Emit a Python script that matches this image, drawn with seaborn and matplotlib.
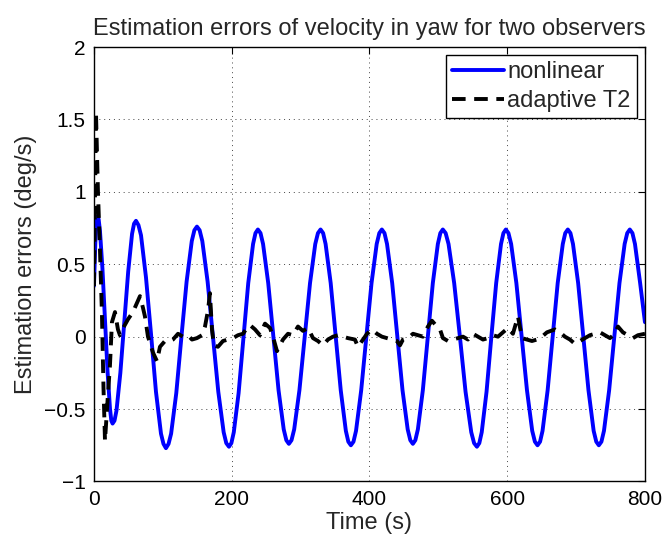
import numpy as np
import pandas as pd
import matplotlib
matplotlib.use("Agg")
import matplotlib.pyplot as plt
import seaborn as sns

# ---- data ----
blue_t = [0, 2, 3.5, 5,
          6.8, 8.7, 12.3, 16, 19.7, 23.3, 25.2, 27,
          29.8, 32.7, 38.3, 44, 49.7, 55.3, 58.2, 61,
          64.6, 68.3, 75.5, 82.8, 90, 97.3, 100.9, 104.5,
          108.3, 112, 119.5, 127, 134.5, 142, 145.8, 149.5,
          153.4, 157.3, 165, 172.8, 180.5, 188.3, 192.1, 196,
          199.5, 203, 210, 217, 224, 231, 234.5, 238,
          241.8, 245.5, 253, 260.5, 268, 275.5, 279.3, 283,
          286.8, 290.7, 298.3, 306, 313.7, 321.3, 325.2, 329,
          332.7, 336.3, 343.7, 351, 358.3, 365.7, 369.3, 373,
          376.8, 380.5, 388, 395.5, 403, 410.5, 414.3, 418,
          421.8, 425.5, 433, 440.5, 448, 455.5, 459.3, 463,
          466.6, 470.3, 477.5, 484.8, 492, 499.3, 502.9, 506.5,
          510.6, 514.8, 523, 531.3, 539.5, 547.8, 551.9, 556,
          559.5, 563, 570, 577, 584, 591, 594.5, 598,
          601.8, 605.7, 613.3, 621, 628.7, 636.3, 640.2, 644,
          647.7, 651.3, 658.7, 666, 673.3, 680.7, 684.3, 688,
          691.8, 695.5, 703, 710.5, 718, 725.5, 729.3, 733,
          736.8, 740.5, 748, 755.5, 763, 770.5, 774.3, 778,
          781.8, 785.5, 793, 800]
blue_v = [0.35, 0.65, 0.78, 0.83,
          0.81, 0.73, 0.47, 0.12, -0.24, -0.50, -0.58, -0.60,
          -0.58, -0.51, -0.25, 0.10, 0.45, 0.71, 0.78, 0.80,
          0.77, 0.70, 0.41, 0.02, -0.38, -0.67, -0.74, -0.77,
          -0.74, -0.67, -0.39, 0.00, 0.38, 0.66, 0.735, 0.76,
          0.735, 0.66, 0.38, 0.00, -0.38, -0.66, -0.735, -0.76,
          -0.735, -0.66, -0.39, -0.01, 0.37, 0.64, 0.715, 0.74,
          0.715, 0.64, 0.37, 0.00, -0.37, -0.64, -0.715, -0.74,
          -0.715, -0.64, -0.37, 0.00, 0.37, 0.64, 0.715, 0.74,
          0.715, 0.64, 0.37, 0.00, -0.37, -0.65, -0.725, -0.75,
          -0.725, -0.65, -0.37, 0.00, 0.37, 0.64, 0.715, 0.74,
          0.715, 0.64, 0.37, 0.00, -0.37, -0.64, -0.715, -0.74,
          -0.715, -0.64, -0.37, 0.00, 0.37, 0.64, 0.715, 0.74,
          0.715, 0.64, 0.37, 0.00, -0.38, -0.66, -0.735, -0.76,
          -0.735, -0.66, -0.38, 0.00, 0.37, 0.64, 0.715, 0.74,
          0.715, 0.64, 0.37, 0.00, -0.37, -0.65, -0.725, -0.75,
          -0.725, -0.65, -0.37, 0.00, 0.37, 0.64, 0.715, 0.74,
          0.715, 0.64, 0.37, 0.00, -0.37, -0.65, -0.725, -0.75,
          -0.725, -0.65, -0.37, 0.00, 0.37, 0.64, 0.715, 0.74,
          0.715, 0.64, 0.37, 0.10]

black_t = [0, 2.9, 5.8, 8.7, 11.6, 13.8, 16.0, 19.6, 23.2, 26.1,
           30.5, 34.8, 37.7, 43.6, 49.4, 56.6, 63.9, 66.8, 71.1, 74.0,
           78.4, 85.7, 91.5, 95.8, 103.1, 110.3, 114.7, 122.0, 129.2, 136.5,
           142.3, 149.5, 156.8, 161.2, 165.5, 168.4, 171.3, 174.2, 180.0, 187.3,
           194.6, 201.8, 209.1, 216.3, 223.6, 226.5, 233.8, 241.0, 248.3, 255.6,
           259.9, 265.7, 270.1, 274.4, 281.7, 288.9, 296.2, 303.4, 310.7, 318.0,
           325.2, 332.5, 339.7, 347.0, 354.3, 361.5, 368.8, 378.9, 383.3, 389.1,
           396.4, 403.6, 410.9, 418.1, 425.4, 432.7, 439.9, 444.3, 448.6, 455.9,
           463.2, 470.4, 477.7, 484.9, 490.7, 498.0, 502.4, 506.7, 514.0, 521.2,
           528.5, 535.8, 543.0, 550.3, 557.5, 564.8, 572.1, 579.3, 586.6, 593.8,
           601.1, 608.3, 615.6, 621.4, 628.7, 635.9, 643.2, 650.5, 657.7, 669.3,
           676.6, 683.8, 691.1, 698.4, 705.6, 712.9, 720.1, 727.4, 734.7, 741.9,
           749.2, 756.4, 760.8, 768.0, 775.3, 782.6, 789.8, 800.0]
black_v = [0.35, 1.55, 1.00, 0.60, 0.15, -0.35, -0.72, -0.45, -0.20, 0.10,
           0.17, 0.05, 0.01, 0.07, 0.12, 0.17, 0.25, 0.28, 0.20, 0.14,
           0.00, -0.11, -0.17, -0.07, -0.03, -0.03, -0.02, 0.02, 0.00, 0.01,
           -0.02, -0.01, 0.01, 0.07, 0.18, 0.30, 0.05, -0.06, -0.07, -0.03,
           -0.02, -0.01, 0.01, 0.02, 0.07, 0.08, 0.05, 0.01, 0.09, 0.06,
           0.00, -0.10, -0.06, -0.02, 0.02, 0.01, 0.07, 0.04, 0.06, -0.01,
           -0.03, -0.06, -0.02, 0.00, 0.01, 0.00, -0.01, -0.02, -0.07, -0.03,
           0.02, 0.05, 0.02, 0.00, -0.01, -0.02, -0.03, -0.06, -0.02, -0.01,
           0.02, 0.01, 0.00, 0.07, 0.11, 0.07, 0.05, -0.01, -0.03, -0.02,
           -0.01, 0.00, -0.02, 0.02, 0.00, -0.02, -0.01, 0.01, 0.00, 0.03,
           0.06, 0.02, 0.14, -0.01, -0.02, -0.03, -0.02, 0.00, 0.03, 0.05,
           0.03, 0.00, -0.02, -0.05, -0.03, -0.01, 0.01, 0.02, 0.03, 0.01,
           -0.01, 0.02, 0.07, 0.03, 0.01, -0.01, 0.01, 0.02]

series_names = ["nonlinear", "adaptive T2"]
xticks = [0, 200, 400, 600, 800]
yticks = [-1, -0.5, 0, 0.5, 1, 1.5, 2]
ytick_labels = ["\u22121", "\u22120.5", "0", "0.5", "1", "1.5", "2"]
title = "Estimation errors of velocity in yaw for two observers"
xlabel = "Time (s)"
ylabel = "Estimation errors (deg/s)"

# ---- drawing ----
sns.set_theme(style="white")
plt.rcParams['font.family'] = ['Liberation Sans', 'DejaVu Sans']

fig = plt.figure(figsize=(6.66, 5.44), dpi=100)
ax = fig.add_axes([0.1411, 0.1149, 0.8273, 0.7987])

df_b = pd.DataFrame({"t": blue_t, "v": blue_v})
df_k = pd.DataFrame({"t": black_t, "v": black_v})
sns.lineplot(data=df_b, x="t", y="v", ax=ax, color="#0000ff", linewidth=2.8,
             sort=False, estimator=None, label=series_names[0])
sns.lineplot(data=df_k, x="t", y="v", ax=ax, color="black", linewidth=2.8,
             sort=False, estimator=None, label=series_names[1])
ax.lines[1].set_dashes([3.5, 2.2])
for ln in ax.lines:
    ln.set_solid_joinstyle("round")
    ln.set_dash_joinstyle("round")

ax.set_xlim(0, 800)
ax.set_ylim(-1, 2)
ax.set_xticks(xticks)
ax.set_xticklabels([str(x) for x in xticks])
ax.set_yticks(yticks)
ax.set_yticklabels(ytick_labels)

ax.grid(True, linestyle=(0, (1, 4)), color="#444444", linewidth=0.7)
ax.tick_params(direction="in", top=True, right=True, length=5, width=0.8,
               labelsize=15, pad=6, colors="black")
for s in ax.spines.values():
    s.set_color("black")
    s.set_linewidth(1.0)

ax.set_title(title, fontsize=17, pad=9)
ax.set_xlabel(xlabel, fontsize=17, labelpad=2)
ax.set_ylabel(ylabel, fontsize=17, labelpad=5)

leg = ax.legend(loc="upper right", fontsize=17, frameon=True, fancybox=False,
                borderaxespad=0.35, handlelength=2.2, handletextpad=0.15,
                borderpad=0.25, labelspacing=0.3)
leg.get_frame().set_edgecolor("black")
leg.get_frame().set_linewidth(1.0)
leg.get_frame().set_alpha(1.0)

fig.savefig("out.png", dpi=100)
